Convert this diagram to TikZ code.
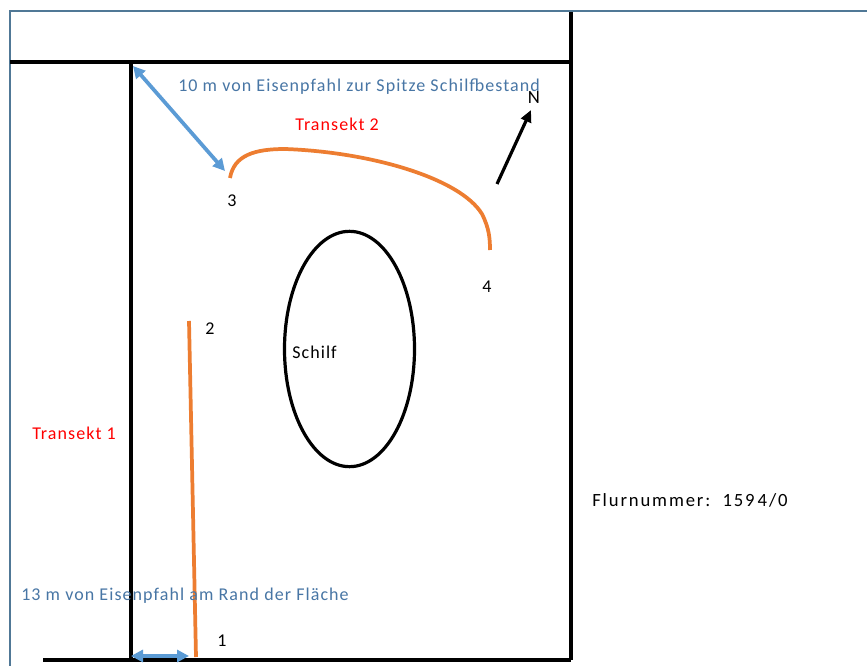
\documentclass[tikz,border=0pt]{standalone}
\usepackage{fontspec}
\setmainfont{Carlito}
\newfontfamily\spacedfont[LetterSpace=6]{Carlito}
\newfontfamily\widefont[LetterSpace=10]{Carlito}
\usetikzlibrary{arrows.meta,shapes.geometric}
\definecolor{framec}{RGB}{80,120,150}
\definecolor{arrowblue}{RGB}{91,155,213}
\definecolor{transorange}{RGB}{237,125,49}
\definecolor{labelblue}{RGB}{72,118,165}
\begin{document}
\begin{tikzpicture}[x=0.75pt,y=-0.75pt,
  frameline/.style={draw=framec,line width=1.6pt},
  plotline/.style={draw=black,line width=2.7pt},
  distarrow/.style={draw=arrowblue,line width=2.8pt,{Triangle[length=9pt,width=9pt]}-{Triangle[length=9pt,width=9pt]}},
  transline/.style={draw=transorange,line width=2.8pt},
  blacklabel/.style={font=\spacedfont\fontsize{13.5}{15}\selectfont,inner sep=0pt},
  redlabel/.style={font=\spacedfont\fontsize{13.5}{15}\selectfont,text=red,inner sep=0pt},
  bluelabel/.style={font=\spacedfont\fontsize{13.5}{15}\selectfont,text=labelblue,inner sep=0pt},
]
\useasboundingbox (0,0) rectangle (867,666);
\fill[white] (0,0) rectangle (867,666);
% outer frame
\coordinate (fTL) at (10,11);
\coordinate (fTR) at (867,11);
\coordinate (fBL) at (10,666);
\draw[frameline] (fBL) -- (fTL) -- (fTR);
% plot lines
\coordinate (topL) at (10,62);
\coordinate (topR) at (571,62);
\coordinate (rTop) at (571,12);
\coordinate (rBot) at (571,660);
\coordinate (lTop) at (131,62);
\coordinate (lBot) at (131,660);
\coordinate (bL) at (43,660);
\coordinate (bR) at (571,660);
\draw[plotline] (topL) -- (topR);
\draw[plotline] (rTop) -- (rBot);
\draw[plotline] (lTop) -- (lBot);
\draw[plotline] (bL) -- (bR);
% distance arrows
\coordinate (a1s) at (133,66);
\coordinate (a1e) at (225,171);
\draw[distarrow] (a1s) -- (a1e);
\coordinate (a2s) at (131,656);
\coordinate (a2e) at (189,656);
\draw[distarrow] (a2s) -- (a2e);
% transects
\coordinate (t1a) at (189,321);
\coordinate (t1b) at (196,657);
\draw[transline] (t1a) -- (t1b);
\coordinate (t2a) at (230,178);
\coordinate (t2m) at (285,149);
\coordinate (t2c) at (482,214);
\coordinate (t2b) at (490,250);
\draw[transline] (t2a) .. controls (234,155) and (255,149) .. (t2m)
  .. controls (370,152) and (460,178) .. (t2c)
  .. controls (489,228) and (490,238) .. (t2b);
% north arrow
\coordinate (ns) at (497,184);
\coordinate (ne) at (531,110);
\draw[line width=2.4pt,-{Triangle[length=9pt,width=8pt]}] (ns) -- (ne);
\node[blacklabel,font=\fontsize{14}{15}\selectfont] (N) at (534,98) {N};
% reed ellipse
\node[draw,line width=2.4pt,ellipse,minimum width=97.5pt,minimum height=176.5pt,inner sep=0pt] (reed) at (349.5,349) {};
\node[blacklabel,anchor=west] (schilf) at (292,352) {Schilf};
% point labels
\node[blacklabel] (p1) at (222,641) {1};
\node[blacklabel] (p2) at (210,329) {2};
\node[blacklabel] (p3) at (232,201) {3};
\node[blacklabel] (p4) at (487,287) {4};
% texts
\node[redlabel,anchor=west] (tr2) at (295,124) {Transekt 2};
\node[redlabel,anchor=west] (tr1) at (32,433) {Transekt 1};
\node[bluelabel,anchor=west] (d1) at (178,87) {10 m von Eisenpfahl zur Spitze Schilfbestand};
\node[bluelabel,anchor=west] (d2) at (21,596) {13 m von Eisenpfahl am Rand der Fläche};
\node[font=\widefont\fontsize{14}{15}\selectfont,inner sep=0pt,anchor=west] (flur) at (592,500) {Flurnummer:\ \ 159\,4/0};
\end{tikzpicture}
\end{document}
